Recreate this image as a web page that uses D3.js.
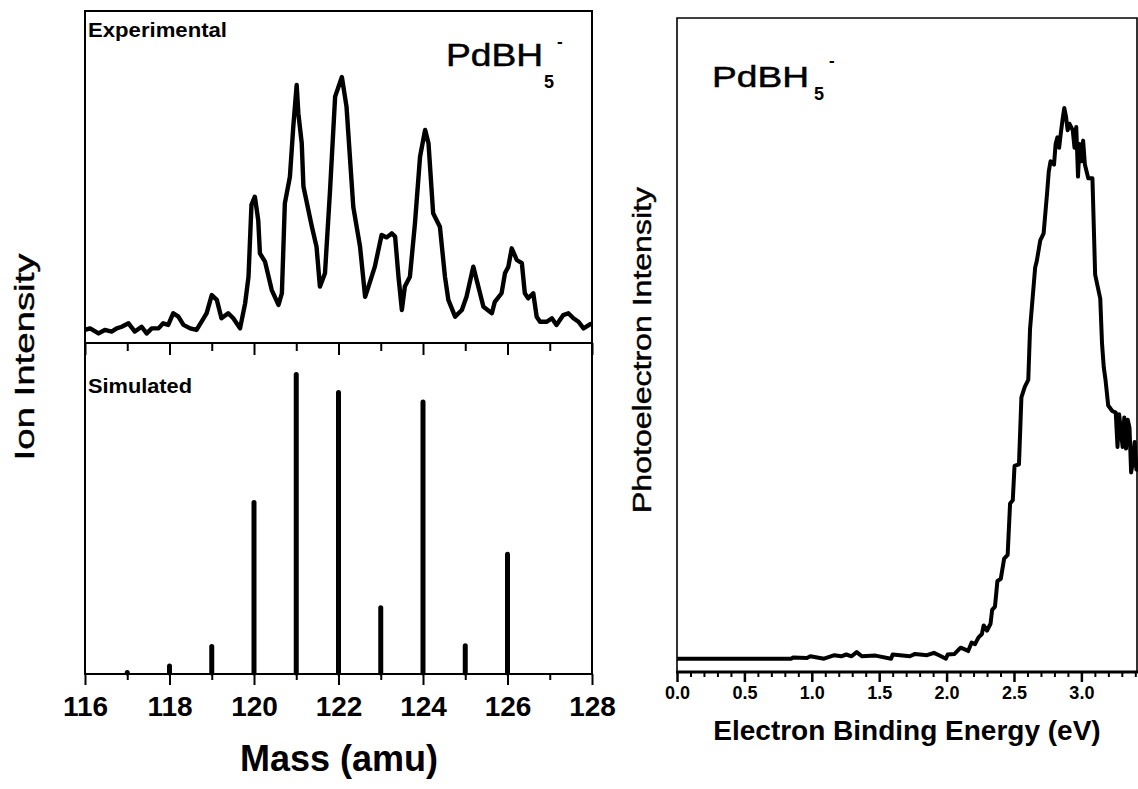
<!DOCTYPE html>
<html>
<head>
<meta charset="utf-8">
<script src="https://cdn.jsdelivr.net/npm/d3@7"></script>
<style>
  html, body { margin: 0; padding: 0; background: #fff; }
  svg { display: block; }
  text { font-family: "Liberation Sans", Arial, Helvetica, sans-serif; fill: #000; }
</style>
</head>
<body>
<svg id="fig" width="1138" height="789"></svg>
<script>
// ---- Mass spectrum: measured ion signal (mass in amu, relative intensity) ----
const expMass = [116.00,116.12,116.32,116.47,116.63,116.75,116.87,117.03,117.18,117.34,117.46,117.58,117.74,117.85,117.97,
  118.09,118.21,118.33,118.49,118.64,118.76,118.88,119.00,119.12,119.23,119.39,119.51,119.67,119.79,119.87,119.94,
  120.02,120.10,120.14,120.26,120.42,120.58,120.66,120.73,120.85,120.93,121.01,121.05,121.13,121.17,121.37,121.48,
  121.56,121.68,121.80,121.92,122.08,122.19,122.35,122.51,122.63,122.71,122.86,123.02,123.14,123.26,123.34,123.42,
  123.50,123.57,123.69,123.81,123.93,124.05,124.13,124.24,124.40,124.52,124.60,124.76,124.92,125.03,125.19,125.31,
  125.43,125.63,125.70,125.86,125.94,126.02,126.10,126.22,126.34,126.41,126.49,126.61,126.69,126.77,126.93,127.05,
  127.16,127.32,127.44,127.56,127.68,127.80,127.99];
const expIntensity = [4.9,5.5,3.6,4.9,4.3,5.5,6.1,7.4,4.3,6.1,3.6,5.5,5.5,7.4,6.8,
  11.2,9.9,6.8,5.5,4.9,8.0,11.2,18.0,16.2,9.3,11.2,9.3,5.5,14.9,24.9,51.9,
  55.0,46.2,33.7,30.6,19.9,14.3,18.7,52.5,62.5,81.3,97.0,86.3,75.1,58.8,43.7,36.2,
  21.2,26.2,57.5,92.6,100,88.8,51.2,36.2,17.4,21.2,28.7,40.6,39.7,41.2,40.0,24.9,
  12.4,21.2,24.9,45.0,70.0,80.1,75.1,48.8,43.7,24.9,16.2,9.9,12.4,17.4,28.7,21.2,
  13.6,11.2,15.5,18.7,26.2,28.7,35.6,31.2,30.0,18.7,16.8,18.7,9.9,8.0,8.0,9.3,
  6.8,10.5,11.2,9.3,8.0,5.5,7.4];

// ---- Mass spectrum: simulated isotope pattern ----
const simMass = [117, 118, 119, 120, 121, 122, 123, 124, 125, 126];
const simIntensity = [1.3, 3.5, 9.9, 57.6, 100, 94.0, 22.8, 90.9, 10.2, 40.5];

const massMajorTicks = [116, 118, 120, 122, 124, 126, 128];
const massMinorTicks = [117, 119, 121, 123, 125, 127];

// ---- Photoelectron spectrum (binding energy in eV, relative intensity) ----
const peEnergy = [0.000,0.849,0.862,0.964,0.989,1.091,1.168,1.218,1.256,1.295,1.333,1.371,1.473,1.588,1.600,1.728,
  1.766,1.855,1.906,1.944,1.995,2.008,2.059,2.104,2.135,2.160,2.186,2.211,2.237,2.262,2.275,2.300,2.326,2.338,
  2.359,2.377,2.402,2.427,2.453,2.471,2.491,2.504,2.537,2.555,2.580,2.606,2.619,2.657,2.669,2.695,2.720,2.733,
  2.746,2.758,2.771,2.797,2.809,2.822,2.835,2.847,2.860,2.873,2.886,2.898,2.911,2.936,2.949,2.962,2.975,2.987,
  3.000,3.013,3.026,3.051,3.082,3.102,3.140,3.153,3.166,3.179,3.199,3.229,3.255,3.268,3.280,3.306,3.318,3.331,
  3.344,3.357,3.369,3.382,3.395,3.408,3.420];
const peIntensity = [0.0244,0.0244,0.0268,0.0257,0.0288,0.0244,0.0308,0.0288,0.0321,0.0288,0.0365,0.0288,0.0301,0.0244,0.0321,0.0288,
  0.0332,0.0308,0.0352,0.0308,0.0244,0.0321,0.0332,0.0446,0.0415,0.0384,0.0541,0.0510,0.0635,0.0697,0.0855,0.0761,0.0886,0.114,
  0.120,0.167,0.171,0.208,0.215,0.309,0.315,0.378,0.381,0.504,0.523,0.536,0.629,0.742,0.754,0.792,0.805,0.843,
  0.880,0.918,0.937,0.931,0.969,0.981,0.962,0.988,1.013,1.035,1.019,0.994,1.006,0.994,0.962,1.000,0.909,0.969,
  0.937,0.975,0.931,0.906,0.906,0.729,0.685,0.603,0.559,0.536,0.489,0.479,0.476,0.413,0.473,0.413,0.467,0.410,
  0.463,0.448,0.366,0.385,0.422,0.372,0.369];

const energyMajorTicks = [0, 0.5, 1.0, 1.5, 2.0, 2.5, 3.0];
const energyMinorTicks = d3.range(0, 35).map(i => i / 10).filter(v => Math.abs(v * 2 - Math.round(v * 2)) > 1e-6);

const svg = d3.select("#fig");
svg.append("rect").attr("width", 1138).attr("height", 789).attr("fill", "#fff");

// ================= Left figure: mass spectra =================
const L = { left: 85, right: 592, top: 11, mid: 343, bottom: 674 };
const xMass = d3.scaleLinear().domain([116, 128]).range([L.left, L.right]);
const yExp = d3.scaleLinear().domain([0, 124.8]).range([L.mid, L.top]);
const ySim = d3.scaleLinear().domain([0, 109.6]).range([L.bottom, L.mid]);

// experimental trace
svg.append("path")
  .datum(expMass.map((m, i) => [m, expIntensity[i]]))
  .attr("fill", "none").attr("stroke", "#000").attr("stroke-width", 4.4)
  .attr("stroke-linejoin", "round")
  .attr("d", d3.line().x(d => xMass(d[0])).y(d => yExp(d[1])));

// simulated sticks
svg.append("g").selectAll("line")
  .data(simMass.map((m, i) => ({ m, v: simIntensity[i] })))
  .join("line")
  .attr("x1", d => xMass(d.m)).attr("x2", d => xMass(d.m))
  .attr("y1", L.bottom - 1)
  .attr("y2", d => Math.min(ySim(d.v) + 2.5, L.bottom - 1.5))
  .attr("stroke", "#000").attr("stroke-width", 5).attr("stroke-linecap", "round");

// ticks on the divider (pointing into the lower panel)
function bareAxis(g, scale, values, size) {
  g.call(d3.axisBottom(scale).tickValues(values).tickSize(size).tickFormat(""));
  g.select(".domain").remove();
  g.selectAll(".tick line").attr("stroke", "#000").attr("stroke-width", 2);
}
svg.append("g").attr("transform", `translate(0,${L.mid})`).call(bareAxis, xMass, massMajorTicks, 12);
svg.append("g").attr("transform", `translate(0,${L.mid})`).call(bareAxis, xMass, massMinorTicks, 8);

// bottom axis
const massAxis = svg.append("g").attr("transform", `translate(0,${L.bottom})`)
  .call(d3.axisBottom(xMass).tickValues(massMajorTicks).tickSize(11).tickFormat(d3.format("d")));
massAxis.select(".domain").remove();
massAxis.selectAll(".tick line").attr("stroke", "#000").attr("stroke-width", 2);
massAxis.selectAll(".tick text")
  .attr("font-family", "'Liberation Sans', Arial, sans-serif")
  .attr("font-size", 28).attr("font-weight", "bold").attr("fill", "#000")
  .attr("dy", null).attr("y", null)
  .attr("transform", "translate(0,42)");
svg.append("g").attr("transform", `translate(0,${L.bottom})`).call(bareAxis, xMass, massMinorTicks, 6);

// frame
svg.append("rect").attr("x", L.left).attr("y", L.top)
  .attr("width", L.right - L.left).attr("height", L.bottom - L.top)
  .attr("fill", "none").attr("stroke", "#000").attr("stroke-width", 2);
svg.append("line").attr("x1", L.left).attr("x2", L.right).attr("y1", L.mid).attr("y2", L.mid)
  .attr("stroke", "#000").attr("stroke-width", 2);

// panel labels
svg.append("text").attr("x", 88).attr("y", 37).attr("font-size", 20).attr("font-weight", "bold")
  .attr("textLength", 139).attr("lengthAdjust", "spacingAndGlyphs").text("Experimental");
svg.append("text").attr("x", 88).attr("y", 393).attr("font-size", 20).attr("font-weight", "bold")
  .attr("textLength", 104).attr("lengthAdjust", "spacingAndGlyphs").text("Simulated");

function formula(x, y, w, size, subX, subY, supX, supY) {
  svg.append("text").attr("x", x).attr("y", y).attr("font-size", size)
    .attr("stroke", "#000").attr("stroke-width", 0.5)
    .attr("textLength", w).attr("lengthAdjust", "spacingAndGlyphs").text("PdBH");
  svg.append("text").attr("x", subX).attr("y", subY).attr("font-size", 18).attr("font-weight", "bold").text("5");
  svg.append("text").attr("x", supX).attr("y", supY).attr("font-size", 17).attr("font-weight", "bold").text("-");
}
formula(446, 66, 97, 31, 544, 88, 557, 47);

// axis titles
svg.append("text").attr("x", 339).attr("y", 771).attr("text-anchor", "middle")
  .attr("font-size", 36).attr("font-weight", "bold").text("Mass (amu)");
svg.append("text").attr("transform", "translate(34,357) rotate(-90)").attr("text-anchor", "middle")
  .attr("font-size", 27).attr("stroke", "#000").attr("stroke-width", 0.4)
  .attr("textLength", 207).attr("lengthAdjust", "spacingAndGlyphs").text("Ion Intensity");

// ================= Right figure: photoelectron spectrum =================
const R = { left: 677, right: 1137, top: 18, bottom: 672 };
const xE = d3.scaleLinear().domain([0, 3.42]).range([R.left, R.left + 461]);
const yPE = d3.scaleLinear().domain([0, 1.2]).range([R.bottom, R.top]);

svg.append("path")
  .datum(peEnergy.map((e, i) => [e, peIntensity[i]]))
  .attr("fill", "none").attr("stroke", "#000").attr("stroke-width", 4)
  .attr("stroke-linejoin", "round")
  .attr("d", d3.line().x(d => xE(d[0])).y(d => yPE(d[1])));

// frame: thin left/top/right, heavier baseline
svg.append("path")
  .attr("d", `M${R.left},${R.bottom}V${R.top}H${R.right}V${R.bottom}`)
  .attr("fill", "none").attr("stroke", "#000").attr("stroke-width", 1.6);

const eAxis = svg.append("g").attr("transform", `translate(0,${R.bottom})`)
  .call(d3.axisBottom(xE).tickValues(energyMajorTicks).tickSize(10).tickFormat(d3.format(".1f")));
eAxis.select(".domain").remove();
eAxis.selectAll(".tick line").attr("stroke", "#000").attr("stroke-width", 2.5);
eAxis.selectAll(".tick text")
  .attr("font-family", "'Liberation Sans', Arial, sans-serif")
  .attr("font-size", 18).attr("font-weight", "bold").attr("fill", "#000")
  .attr("dy", null).attr("y", null)
  .attr("transform", "translate(0,27)");
const eMinor = svg.append("g").attr("transform", `translate(0,${R.bottom})`)
  .call(d3.axisBottom(xE).tickValues(energyMinorTicks).tickSize(5).tickFormat(""));
eMinor.select(".domain").remove();
eMinor.selectAll(".tick line").attr("stroke", "#000").attr("stroke-width", 2);
svg.append("line").attr("x1", R.left - 1).attr("x2", 1138).attr("y1", R.bottom).attr("y2", R.bottom)
  .attr("stroke", "#000").attr("stroke-width", 3);

formula(712, 87, 97, 30, 814, 100, 829, 66);

svg.append("text").attr("x", 907).attr("y", 740).attr("text-anchor", "middle")
  .attr("font-size", 28).attr("font-weight", "bold").text("Electron Binding Energy (eV)");
svg.append("text").attr("transform", "translate(651,350) rotate(-90)").attr("text-anchor", "middle")
  .attr("font-size", 25).attr("stroke", "#000").attr("stroke-width", 0.4)
  .attr("textLength", 326).attr("lengthAdjust", "spacingAndGlyphs").text("Photoelectron Intensity");
</script>
</body>
</html>
